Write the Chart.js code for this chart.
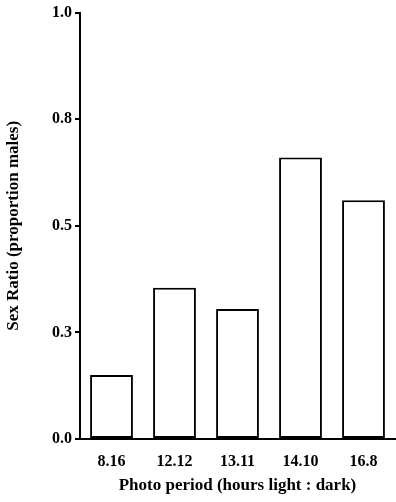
<!DOCTYPE html>
<html>
<head>
<meta charset="utf-8">
<script src="https://cdn.jsdelivr.net/npm/chart.js"></script>
<style>
  html, body { margin: 0; padding: 0; background: #fff; }
  #wrap { width: 396px; height: 502px; }
</style>
</head>
<body>
<div id="wrap"><canvas id="chart"></canvas></div>
<script>
// photoperiod (hours light : dark)
const periods = ["8.16", "12.12", "13.11", "14.10", "16.8"];
// proportion males
const sexRatio = [0.15, 0.355, 0.305, 0.66, 0.56];
// y ticks as printed
const tickValues = [0, 0.25, 0.5, 0.75, 1.0];
const tickLabels = ["0.0", "0.3", "0.5", "0.8", "1.0"];

const serif = "'Liberation Serif', 'DejaVu Serif', serif";

new Chart(document.getElementById("chart"), {
  type: "bar",
  data: {
    labels: periods,
    datasets: [{
      data: sexRatio,
      backgroundColor: "#fff",
      borderColor: "#000",
      borderWidth: 2,
      borderSkipped: false,
      barPercentage: 0.68,
      categoryPercentage: 1
    }]
  },
  options: {
    responsive: true,
    maintainAspectRatio: false,
    animation: false,
    layout: { padding: { top: 7, right: 1, left: 0, bottom: 0 } },
    plugins: { legend: { display: false }, tooltip: { enabled: false } },
    scales: {
      x: {
        grid: { display: false },
        border: { display: true, color: "#000", width: 2 },
        ticks: { color: "#000", padding: 5, font: { family: serif, size: 16, weight: "bold" } },
        title: {
          display: true,
          text: "Photo period (hours light : dark)",
          color: "#000",
          font: { family: serif, size: 17, weight: "bold" },
          padding: { top: 0, bottom: 6 }
        },
        afterFit: s => { s.height = 63; }
      },
      y: {
        min: 0,
        max: 1,
        afterBuildTicks: s => { s.ticks = tickValues.map(v => ({ value: v })); },
        grid: { drawOnChartArea: false, drawTicks: true, tickLength: 5, color: "#000", lineWidth: 2 },
        border: { display: true, color: "#000", width: 2 },
        ticks: {
          color: "#000",
          padding: 3,
          font: { family: serif, size: 16, weight: "bold" },
          callback: (v) => tickLabels[tickValues.indexOf(v)]
        },
        title: {
          display: true,
          text: "Sex Ratio (proportion males)",
          color: "#000",
          font: { family: serif, size: 17, weight: "bold" },
          padding: { top: 3, bottom: 0 }
        },
        afterFit: s => { s.width = 80; }
      }
    }
  }
});
</script>
</body>
</html>
